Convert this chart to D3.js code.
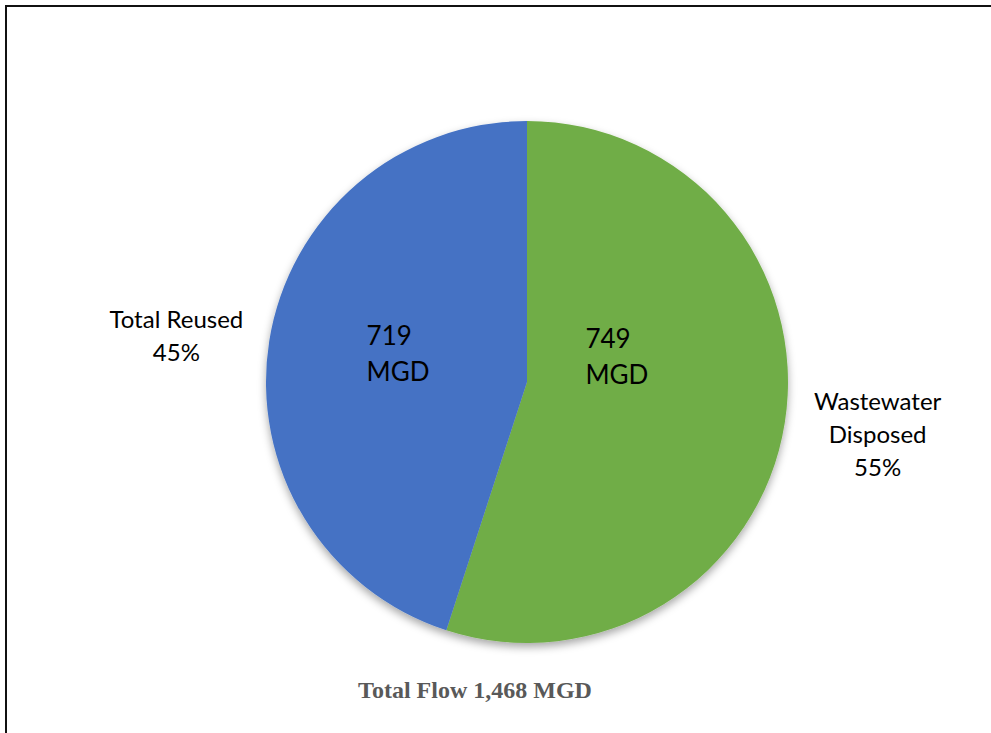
<!DOCTYPE html>
<html>
<head>
<meta charset="utf-8">
<script src="https://cdn.jsdelivr.net/npm/d3@7"></script>
<style>
  html, body { margin: 0; padding: 0; background: #fff; }
  svg { display: block; }
</style>
</head>
<body>
<svg id="chart"></svg>
<script>
const categories = ['Wastewater Disposed', 'Total Reused'];
const labelLines = [['Wastewater', 'Disposed', '55%'], ['Total Reused', '45%']];
const shares = [55, 45];
const flows = [749, 719];
const colors = ['#70AD47', '#4472C4'];
const totalTitle = 'Total Flow 1,468 MGD';

const width = 991, height = 733;
const cx = 527, cy = 382, radius = 261;

const svg = d3.select('#chart').attr('width', width).attr('height', height);

// frame of the figure, running off the right and bottom edges
svg.append('rect')
  .attr('x', 6).attr('y', 6).attr('width', width).attr('height', height)
  .attr('fill', 'none').attr('stroke', '#111').attr('stroke-width', 2);

const defs = svg.append('defs');
const shadow = defs.append('filter').attr('id', 'shadow')
  .attr('x', '-20%').attr('y', '-20%').attr('width', '140%').attr('height', '140%');
shadow.append('feDropShadow')
  .attr('dx', 0).attr('dy', 4).attr('stdDeviation', 4)
  .attr('flood-color', '#000').attr('flood-opacity', 0.35);

const pie = d3.pie().sort(null).value(d => d);
const arcs = pie(shares);
const arc = d3.arc().innerRadius(0).outerRadius(radius);
const innerArc = d3.arc().innerRadius(131).outerRadius(131);
const outerArc = d3.arc().innerRadius(355).outerRadius(355);

const g = svg.append('g').attr('transform', `translate(${cx},${cy})`);

g.append('g').attr('filter', 'url(#shadow)')
  .selectAll('path').data(arcs).enter().append('path')
  .attr('d', arc)
  .attr('fill', (d, i) => colors[i]);

// value labels inside the slices (Excel moved the green one in a bit)
const innerNudge = [[-41, -53], [-1, -16]];
const inner = g.selectAll('text.inner').data(arcs).enter().append('text')
  .attr('class', 'inner')
  .attr('font-family', 'Lato, "Open Sans", sans-serif')
  .attr('font-size', 26)
  .attr('fill', '#000')
  .attr('text-anchor', 'start')
  .attr('transform', (d, i) => {
    const c = innerArc.centroid(d);
    return `translate(${c[0] + innerNudge[i][0] - 30},${c[1] + innerNudge[i][1]})`;
  });
inner.append('tspan').attr('x', 0).attr('dy', -1).text((d, i) => flows[i]);
inner.append('tspan').attr('x', 0).attr('dy', 36).text('MGD');

// category labels outside
const outerNudge = [[0, -2], [0, 11]];
const outer = g.selectAll('text.outer').data(arcs).enter().append('text')
  .attr('class', 'outer')
  .attr('font-family', 'Lato, "Open Sans", sans-serif')
  .attr('font-size', 24)
  .attr('fill', '#000')
  .attr('text-anchor', 'middle')
  .attr('transform', (d, i) => {
    const c = outerArc.centroid(d);
    return `translate(${c[0] + outerNudge[i][0]},${c[1] + outerNudge[i][1]})`;
  });
outer.each(function(d, i) {
  const lines = labelLines[i];
  const t = d3.select(this);
  const lh = 33;
  lines.forEach((line, k) => {
    t.append('tspan').attr('x', 0)
      .attr('y', (k - (lines.length - 1) / 2) * lh + 7)
      .text(line);
  });
});

svg.append('text')
  .attr('x', 475).attr('y', 698)
  .attr('text-anchor', 'middle')
  .attr('font-family', '"Liberation Serif", "Times New Roman", serif')
  .attr('font-weight', 'bold')
  .attr('font-size', 24)
  .attr('fill', '#595959')
  .text(totalTitle);
</script>
</body>
</html>
